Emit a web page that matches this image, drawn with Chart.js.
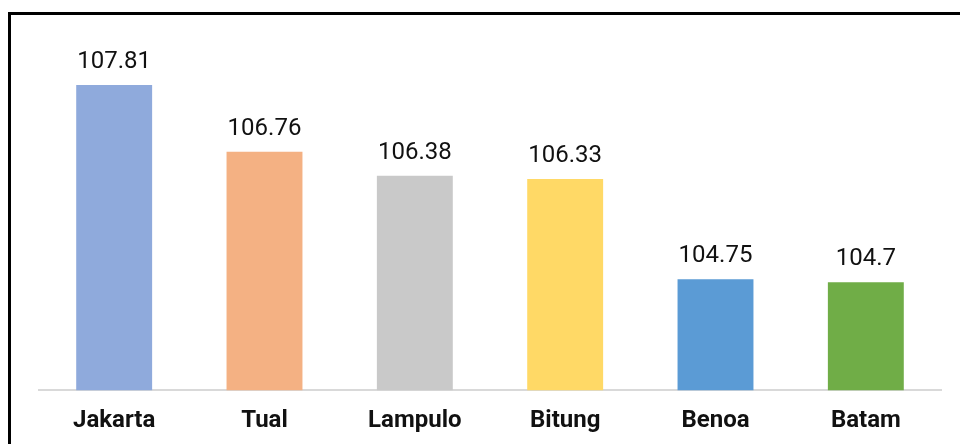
<!DOCTYPE html>
<html>
<head>
<meta charset="utf-8">
<script src="https://cdn.jsdelivr.net/npm/chart.js@4"></script>
<style>
  html, body { margin: 0; padding: 0; background: #fff; }
  #wrap { position: relative; width: 960px; height: 444px; overflow: hidden; }
  #frame { position: absolute; left: 8px; top: 12px; width: 2000px; height: 2000px; border-left: 3px solid #000; border-top: 3px solid #000; box-sizing: border-box; pointer-events: none; }
  canvas { position: absolute; left: 0; top: 0; }
</style>
</head>
<body>
<div id="wrap">
  <canvas id="c" width="960" height="451"></canvas>
  <div id="frame"></div>
</div>
<script>
const categories = ["Jakarta", "Tual", "Lampulo", "Bitung", "Benoa", "Batam"];
const values = [107.81, 106.76, 106.38, 106.33, 104.75, 104.7];
const colors = ["#8FAADC", "#F4B183", "#C9C9C9", "#FFD966", "#5B9BD5", "#70AD47"];

const valueLabels = {
  id: 'valueLabels',
  afterDatasetsDraw(chart) {
    const ctx = chart.ctx;
    const meta = chart.getDatasetMeta(0);
    ctx.save();
    ctx.font = '24px Roboto';
    ctx.fillStyle = '#111';
    ctx.textAlign = 'center';
    ctx.textBaseline = 'alphabetic';
    meta.data.forEach((bar, i) => {
      ctx.fillText(String(values[i]), bar.x, bar.y - 17);
    });
    ctx.restore();
  }
};

new Chart(document.getElementById('c'), {
  type: 'bar',
  data: {
    labels: categories,
    datasets: [{
      data: values,
      backgroundColor: colors,
      borderWidth: 0,
      barPercentage: 0.505,
      categoryPercentage: 1.0
    }]
  },
  options: {
    responsive: false,
    animation: false,
    devicePixelRatio: 1,
    layout: { padding: { left: 39, right: 19, top: 73, bottom: 0 } },
    plugins: { legend: { display: false }, tooltip: { enabled: false } },
    scales: {
      x: {
        grid: { display: false, drawTicks: false },
        border: { display: true, color: '#D9D9D9', width: 2 },
        ticks: { color: '#111', font: { family: 'Roboto', size: 24, weight: 'bold' }, padding: 16, maxRotation: 0 }
      },
      y: {
        display: false,
        min: 103,
        max: 108
      }
    }
  },
  plugins: [valueLabels]
});
</script>
</body>
</html>
